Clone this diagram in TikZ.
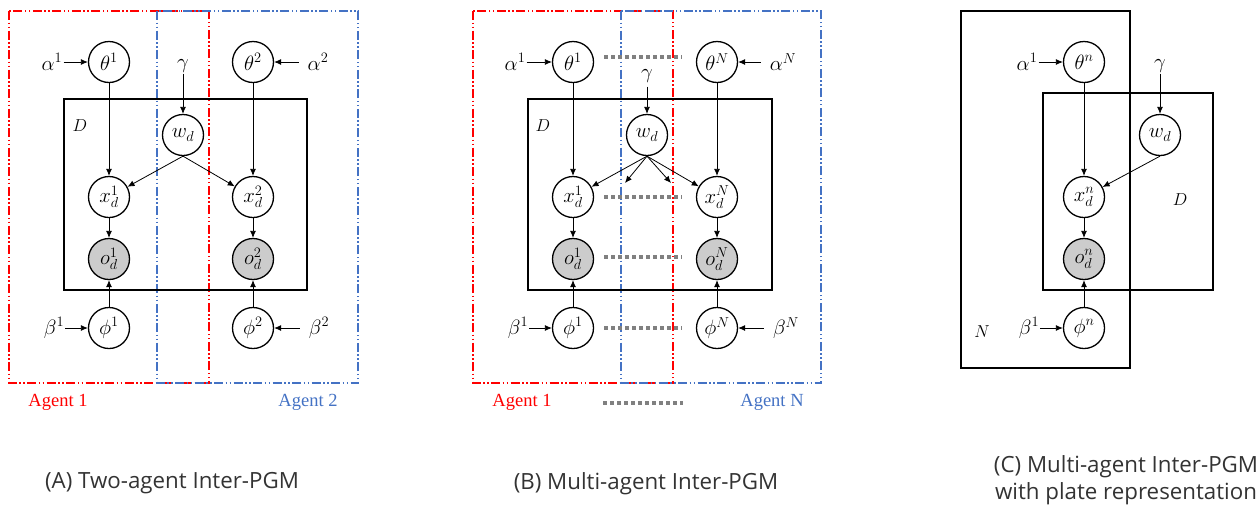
\documentclass[tikz,border=0pt]{standalone}
\usepackage{fontspec}
\newfontfamily\capfont{Open Sans}
\newfontfamily\agentfont{Liberation Serif}
\usetikzlibrary{arrows.meta}
\definecolor{agentred}{RGB}{255,0,0}
\definecolor{agentblue}{RGB}{68,114,196}
\tikzset{
  var/.style={circle,draw,line width=1.3pt,minimum size=41pt,inner sep=0pt,fill=white},
  obs/.style={var,fill=gray!40},
  plate/.style={draw,line width=1.6pt},
  platelbl/.style={font=\fontsize{17.28}{21}\selectfont},
  edge/.style={-{Latex[length=7pt,width=6pt]},line width=0.8pt},
  lbl/.style={inner sep=1pt},
  agentbox/.style={line width=1.1pt,dash pattern=on 9pt off 2.5pt on 1.5pt off 2.5pt on 1.5pt off 2.5pt},
  gap/.style={draw=gray,line width=4pt,dash pattern=on 4pt off 3pt},
  agent/.style={font=\agentfont\fontsize{18.5}{22}\selectfont},
  caption/.style={font=\capfont\fontsize{22.3}{27}\selectfont,text=black!80,align=center}
}
\begin{document}
\begin{tikzpicture}[x=1pt,y=-1pt,every node/.append style={font=\fontsize{20.74}{24}\selectfont}]
\useasboundingbox (0,0) rectangle (1258,504);
% (A) two agents
\draw[agentbox,draw=agentred] (9,11) rectangle (209,383);
\draw[agentbox,draw=agentblue] (157,11) rectangle (358,383);
\draw[plate] (64,99) rectangle (307,290);
\node[platelbl] (DA) at (80,126) {$D$};
\node[var] (tA1) at (109,62) {$\theta^1$};
\node[var] (tA2) at (253,62) {$\theta^2$};
\node[var] (wA) at (183,135) {$w_d$};
\node[var] (xA1) at (109,197) {$x_d^1$};
\node[var] (xA2) at (253,197) {$x_d^2$};
\node[obs] (oA1) at (109,259) {$o_d^1$};
\node[obs] (oA2) at (253,259) {$o_d^2$};
\node[var] (pA1) at (109,328) {$\phi^1$};
\node[var] (pA2) at (253,328) {$\phi^2$};
\node[lbl] (aA1) at (52,62) {$\alpha^1$};
\node[lbl] (aA2) at (318,62) {$\alpha^2$};
\node[lbl] (bA1) at (54,328) {$\beta^1$};
\node[lbl] (bA2) at (319,328) {$\beta^2$};
\node[lbl] (gA) at (183,66) {$\gamma$};
\draw[edge] (aA1)--(tA1);
\draw[edge,shorten <=8pt] (aA2)--(tA2);
\draw[edge] (bA1)--(pA1);
\draw[edge,shorten <=8pt] (bA2)--(pA2);
\draw[edge] (gA)--(wA);
\draw[edge] (tA1)--(xA1);
\draw[edge] (tA2)--(xA2);
\draw[edge] (wA.south)--(xA1);
\draw[edge] (wA.south)--(xA2);
\draw[edge] (xA1)--(oA1);
\draw[edge] (xA2)--(oA2);
\draw[edge] (pA1)--(oA1);
\draw[edge] (pA2)--(oA2);
\node[agent,text=agentred] (agA1) at (58,402) {Agent 1};
\node[agent,text=agentblue] (agA2) at (308,402) {Agent 2};
\node[caption] (capA) at (172,483) {(A) Two-agent Inter-PGM};
% (B) N agents
\draw[agentbox,draw=agentred] (473,11) rectangle (673,383);
\draw[agentbox,draw=agentblue] (621,11) rectangle (821,383);
\draw[plate] (528,99) rectangle (772,290);
\node[platelbl] (DB) at (543,126) {$D$};
\node[var] (tB1) at (573,62) {$\theta^1$};
\node[var] (tBN) at (717,62) {$\theta^N$};
\node[var] (wB) at (647,135) {$w_d$};
\node[var] (xB1) at (573,197) {$x_d^1$};
\node[var] (xBN) at (717,197) {$x_d^N$};
\node[obs] (oB1) at (573,259) {$o_d^1$};
\node[obs] (oBN) at (717,259) {$o_d^N$};
\node[var] (pB1) at (573,328) {$\phi^1$};
\node[var] (pBN) at (717,328) {$\phi^N$};
\node[lbl] (aB1) at (515,62) {$\alpha^1$};
\node[lbl] (aBN) at (783,62) {$\alpha^N$};
\node[lbl] (bB1) at (518,328) {$\beta^1$};
\node[lbl] (bBN) at (786,328) {$\beta^N$};
\node[lbl] (gB) at (647,76) {$\gamma$};
\coordinate (mB1) at (625,183);
\coordinate (mB2) at (671,183);
\draw[edge] (aB1)--(tB1);
\draw[edge,shorten <=8pt] (aBN)--(tBN);
\draw[edge] (bB1)--(pB1);
\draw[edge,shorten <=8pt] (bBN)--(pBN);
\draw[edge,shorten <=3pt] (gB)--(wB);
\draw[edge] (tB1)--(xB1);
\draw[edge] (tBN)--(xBN);
\draw[edge] (wB.south)--(xB1);
\draw[edge] (wB.south)--(mB1);
\draw[edge] (wB.south)--(mB2);
\draw[edge] (wB.south)--(xBN);
\draw[edge] (xB1)--(oB1);
\draw[edge] (xBN)--(oBN);
\draw[edge] (pB1)--(oB1);
\draw[edge] (pBN)--(oBN);
\draw[gap] ([xshift=10pt,yshift=5pt]tB1.east)--([xshift=-14pt,yshift=5pt]tBN.west);
\draw[gap] ([xshift=10pt]xB1.east)--([xshift=-14pt]xBN.west);
\draw[gap] ([xshift=10pt,yshift=2pt]oB1.east)--([xshift=-14pt,yshift=2pt]oBN.west);
\draw[gap] ([xshift=10pt]pB1.east)--([xshift=-14pt]pBN.west);
\node[agent,text=agentred] (agB1) at (522,402) {Agent 1};
\node[agent,text=agentblue] (agBN) at (772,402) {Agent N};
\coordinate (dl) at (603,403);
\coordinate (dr) at (683,403);
\draw[gap] (dl)--(dr);
\node[caption] (capB) at (646,484) {(B) Multi-agent Inter-PGM};
% (C) plate notation
\draw[plate] (961,11) rectangle (1130,368);
\draw[plate] (1043,93) rectangle (1213,290);
\node[platelbl] (NC) at (982,332) {$N$};
\node[platelbl] (DC) at (1180,200) {$D$};
\node[var] (tC) at (1084,62) {$\theta^n$};
\node[var] (wC) at (1160,135) {$w_d$};
\node[var] (xC) at (1084,197) {$x_d^n$};
\node[obs] (oC) at (1084,259) {$o_d^n$};
\node[var] (pC) at (1084,328) {$\phi^n$};
\node[lbl] (aC) at (1027,62) {$\alpha^1$};
\node[lbl] (bC) at (1029,328) {$\beta^1$};
\node[lbl] (gC) at (1160,66) {$\gamma$};
\draw[edge] (aC)--(tC);
\draw[edge] (bC)--(pC);
\draw[edge] (gC)--(wC);
\draw[edge] (tC)--(xC);
\draw[edge] (wC.south)--(xC);
\draw[edge] (xC)--(oC);
\draw[edge] (pC)--(oC);
\node[caption] (capC) at (1126,480) {(C) Multi-agent Inter-PGM\\with plate representation};
\end{tikzpicture}
\end{document}
